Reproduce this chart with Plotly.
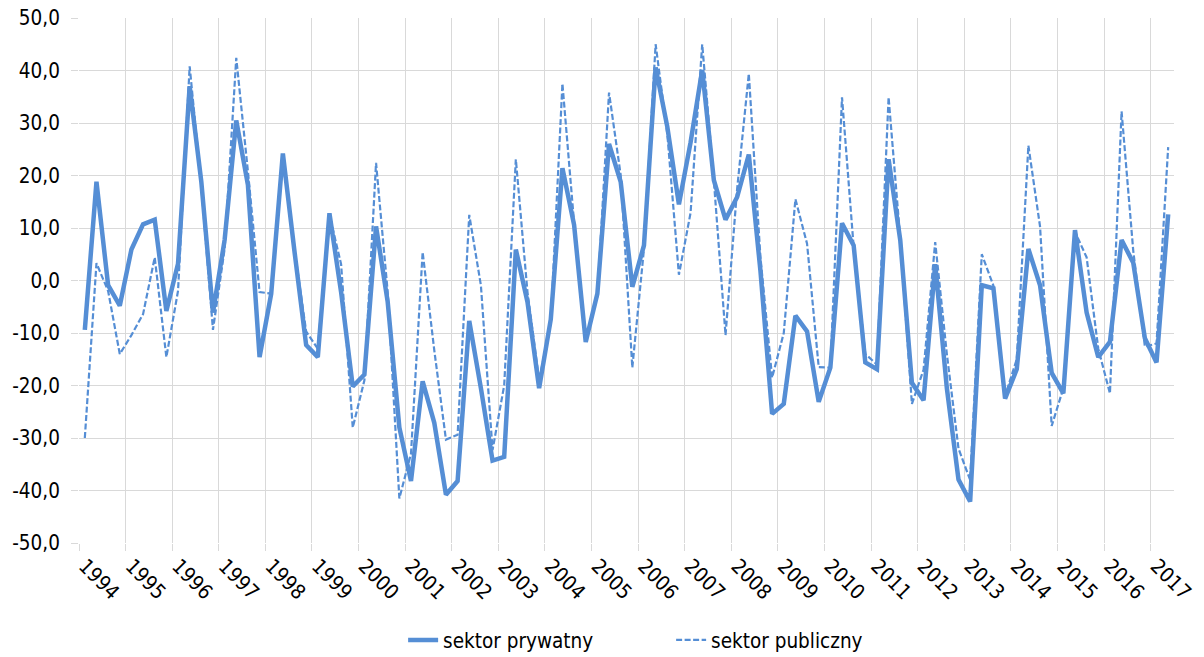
import plotly.graph_objects as go

years = list(range(1994, 2018))
quarters_per_year = 4

sektor_prywatny = [
    -9.4, 18.8, -0.9, -4.8,    # 1994
    5.9, 10.7, 11.6, -5.8,     # 1995
    3.2, 37.0, 18.8, -6.1,     # 1996
    7.7, 30.5, 18.2, -14.6,    # 1997
    -2.5, 24.2, 5.5, -12.3,    # 1998
    -14.6, 12.8, -2.2, -20.2,  # 1999
    -17.9, 10.3, -4.1, -28.0,  # 2000
    -38.2, -19.2, -27.1, -40.8,  # 2001
    -38.2, -7.7, -20.5, -34.3,  # 2002
    -33.6, 5.9, -4.1, -20.5,   # 2003
    -7.4, 21.4, 10.6, -11.7,   # 2004
    -2.5, 26.0, 18.8, -1.2,    # 2005
    6.7, 40.6, 29.3, 14.5,     # 2006
    26.3, 40.1, 19.1, 11.6,    # 2007
    15.9, 24.0, 1.8, -25.4,    # 2008
    -23.5, -6.7, -9.7, -23.1,  # 2009
    -16.6, 10.9, 6.7, -15.6,   # 2010
    -16.9, 23.1, 7.7, -19.5,   # 2011
    -22.8, 3.1, -20.5, -37.9,  # 2012
    -42.1, -0.9, -1.5, -22.5,  # 2013
    -16.9, 6.0, -0.9, -17.6,   # 2014
    -21.5, 9.6, -6.1, -14.6,   # 2015
    -11.7, 7.7, 3.4, -11.0,    # 2016
    -15.6, 12.6,               # 2017
]

sektor_publiczny = [
    -30.0, 3.3, -2.0, -14.0,   # 1994
    -10.4, -6.4, 4.4, -14.6,   # 1995
    -2.0, 40.8, 18.0, -9.4,    # 1996
    6.0, 42.4, 20.8, -2.2,     # 1997
    -2.5, 23.5, 6.0, -9.7,     # 1998
    -13.0, 12.5, 3.1, -28.0,   # 1999
    -19.0, 22.4, -2.2, -41.5,  # 2000
    -33.0, 5.4, -13.3, -30.3,  # 2001
    -29.4, 12.5, -0.9, -32.3,  # 2002
    -20.0, 23.1, -2.2, -19.0,  # 2003
    -8.0, 37.5, 11.0, -11.3,   # 2004
    -3.0, 35.8, 20.1, -16.6,   # 2005
    6.0, 45.0, 28.0, 1.1,      # 2006
    12.9, 45.0, 19.0, -10.4,   # 2007
    17.5, 39.4, 4.4, -18.5,    # 2008
    -10.0, 15.5, 7.0, -16.5,   # 2009
    -16.6, 34.9, 6.4, -14.0,   # 2010
    -16.0, 34.9, 8.0, -23.5,   # 2011
    -17.0, 7.3, -14.0, -32.0,  # 2012
    -38.0, 5.0, -1.0, -22.0,   # 2013
    -15.0, 25.7, 10.3, -27.7,  # 2014
    -20.5, 9.3, 4.4, -13.0,    # 2015
    -21.5, 32.2, 5.7, -12.6,   # 2016
    -12.0, 25.4,               # 2017
]

y_ticks = [-50, -40, -30, -20, -10, 0, 10, 20, 30, 40, 50]

n = len(sektor_prywatny)
x_idx = list(range(n))
year_tick_pos = [i * quarters_per_year for i in range(len(years))]
year_tick_text = [str(y) for y in years]

color = "#558ED5"
grid = "#D9D9D9"
font_family = "'DejaVu Sans Condensed', 'Liberation Sans', sans-serif"
fs = 20.5

fig = go.Figure()
fig.add_trace(go.Scatter(
    x=x_idx, y=sektor_prywatny, mode="lines", name="sektor prywatny",
    line=dict(color=color, width=4.5),
))
fig.add_trace(go.Scatter(
    x=x_idx, y=sektor_publiczny, mode="lines", name="sektor publiczny",
    line=dict(color=color, width=2.2, dash="6px,2.5px"),
))

fig.update_layout(
    width=1204, height=657,
    margin=dict(l=79, r=30, t=18, b=114, autoexpand=False),
    paper_bgcolor="white", plot_bgcolor="white",
    font=dict(family=font_family, size=fs, color="#000000"),
    showlegend=True,
    legend=dict(
        orientation="h", x=0.296, xanchor="left", y=-0.185, yanchor="middle",
        font=dict(size=fs), entrywidth=223, entrywidthmode="pixels",
    ),
    xaxis=dict(
        range=[-0.5, n - 0.5],
        tickmode="array", tickvals=year_tick_pos, ticktext=year_tick_text,
        tickangle=45, showgrid=False, ticks="", zeroline=False, showline=False,
        ticklabelstandoff=6, automargin=False,
        minor=dict(tickmode="linear", tick0=-0.5, dtick=quarters_per_year,
                   showgrid=True, gridcolor=grid, gridwidth=1,
                   ticks="outside", ticklen=7, tickcolor=grid),
    ),
    yaxis=dict(
        range=[-50, 50], tickmode="array", tickvals=y_ticks,
        ticktext=[f"{v:.1f}".replace(".", ",") for v in y_ticks],
        showgrid=True, gridcolor=grid, gridwidth=1, zeroline=False,
        showline=False, ticks="outside", ticklen=7, tickcolor=grid,
        ticklabelstandoff=7, automargin=False,
    ),
)

fig.write_html("out.html")
